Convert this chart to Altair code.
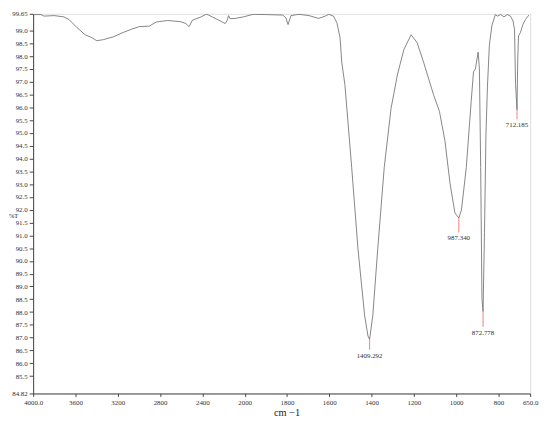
import altair as alt
import pandas as pd

# Spectrum (wavenumber cm-1, %T)
wavenumber = [4000, 3927, 3896, 3802, 3709, 3662, 3585, 3508, 3445, 3399, 3336, 3243,
              3150, 3056, 2995, 2901, 2836, 2727, 2603, 2556, 2525, 2494, 2417, 2361,
              2307, 2245, 2184, 2168, 2152, 2137, 2090, 2012, 1960, 1898, 1820, 1805,
              1795, 1781, 1743, 1696, 1650, 1619, 1603, 1580, 1564, 1549, 1541, 1526,
              1494, 1464, 1433, 1417, 1409.292, 1394, 1371, 1340, 1308, 1278, 1247,
              1213, 1185, 1154, 1107, 1079, 1053, 1029, 1006, 987.340, 975, 952, 929,
              918, 909, 896, 890, 884, 878, 872.778, 866, 859, 852, 843, 831, 815, 805,
              789, 774, 758, 743, 731, 724, 719, 712.185, 709, 705, 696, 684, 672, 656]
transmittance = [99.62, 99.62, 99.56, 99.58, 99.53, 99.43, 99.11, 98.83, 98.72, 98.60,
                 98.64, 98.75, 98.92, 99.07, 99.15, 99.17, 99.33, 99.39, 99.34, 99.27,
                 99.15, 99.40, 99.52, 99.64, 99.53, 99.40, 99.27, 99.37, 99.58, 99.46,
                 99.47, 99.53, 99.63, 99.62, 99.60, 99.49, 99.23, 99.58, 99.63, 99.58,
                 99.47, 99.56, 99.63, 99.56, 99.30, 98.72, 97.76, 96.88, 93.65, 90.45,
                 87.88, 87.07, 86.93, 87.88, 90.45, 93.65, 95.95, 97.26, 98.26, 98.83,
                 98.53, 97.76, 96.49, 95.84, 94.69, 93.03, 91.88, 91.67, 91.99, 93.65,
                 96.22, 97.38, 97.50, 98.15, 97.50, 93.65, 88.53, 88.02, 91.11, 94.95,
                 96.80, 98.42, 99.19, 99.62, 99.56, 99.62, 99.53, 99.62, 99.56, 99.37,
                 99.04, 96.88, 95.90, 97.80, 98.79, 98.92, 99.24, 99.43, 99.60]

# Peak annotations
peak_wn = [1409.292, 987.340, 872.778, 712.185]
peak_t = [86.93, 91.67, 88.02, 95.90]
peak_t_end = [86.53, 91.11, 87.42, 95.53]
peak_labels = ["1409.292", "987.340", "872.778", "712.185"]

# Axis ticks
x_ticks = [4000, 3600, 3200, 2800, 2400, 2000, 1800, 1600, 1400, 1200, 1000, 800, 650]
y_ticks = [99.65, 99.0, 98.5, 98.0, 97.5, 97.0, 96.5, 96.0, 95.5, 95.0, 94.5, 94.0,
           93.5, 93.0, 92.5, 92.0, 91.5, 91.0, 90.5, 90.0, 89.5, 89.0, 88.5, 88.0,
           87.5, 87.0, 86.5, 86.0, 85.5, 84.82]

spec = pd.DataFrame({"wn": wavenumber, "t": transmittance})
peaks = pd.DataFrame({"wn": peak_wn, "t": peak_t, "t2": peak_t_end, "label": peak_labels})

W = 504
H = 385
FONT = "Liberation Serif"

x_scale = alt.Scale(domain=[4000, 2000, 650], range=[0, 214.5, W], nice=False, zero=False)
y_scale = alt.Scale(domain=[84.82, 99.65], nice=False, zero=False)

x_axis = alt.Axis(
    values=x_ticks,
    labelExpr="(datum.value == 4000 || datum.value == 650) ? format(datum.value, '.1f') : format(datum.value, 'd')",
    title="cm \u22121", titleFontSize=10.5, titleFontWeight="normal", titleX=257, titleY=22,
    titleAlign="center", titleBaseline="alphabetic", titleFont=FONT, titleColor="#222222",
    labelFont=FONT, labelFontSize=7, labelColor="#333333",
    tickSize=3, labelPadding=2, grid=False,
    labelOverlap=False, labelFlush=False, labelBound=False,
    domainColor="#444444", tickColor="#444444",
)
y_axis = alt.Axis(
    values=y_ticks,
    labelExpr="(datum.value == 99.65 || datum.value == 84.82) ? format(datum.value, '.2f') : format(datum.value, '.1f')",
    title="%T", titleAngle=0, titleFontSize=6.5, titleFontWeight="normal",
    titleX=-25, titleY=205, titleAlign="left", titleBaseline="middle",
    titleFont=FONT, titleColor="#222222",
    labelFont=FONT, labelFontSize=7, labelColor="#333333",
    tickSize=4, labelPadding=2, grid=False,
    labelOverlap=False, labelFlush=False, labelBound=False,
    domainColor="#444444", tickColor="#444444",
)

X = alt.X("wn:Q", scale=x_scale, axis=x_axis)

line = alt.Chart(spec).mark_line(color="#666666", strokeWidth=0.8, clip=True).encode(
    x=X,
    y=alt.Y("t:Q", scale=y_scale, axis=y_axis),
    order="wn:Q",
)

marks = alt.Chart(peaks).mark_rule(color="#f08080", strokeWidth=1).encode(
    x=X,
    y=alt.Y("t:Q", scale=y_scale, axis=y_axis),
    y2="t2:Q",
)

labels = alt.Chart(peaks).mark_text(font=FONT, fontSize=7, color="#333333",
                                    baseline="top", align="center", dy=2).encode(
    x=X,
    y=alt.Y("t2:Q", scale=y_scale, axis=y_axis),
    text="label:N",
)

chart = (line + marks + labels).properties(
    width=W, height=H,
    autosize=alt.AutoSizeParams(type="none"),
    padding={"left": 25.5, "top": 3, "right": 12, "bottom": 24},
).configure_view(stroke=None).configure_axis(
    labelOverlap=False,
).configure(background="white")

chart.save("out.html", embed_options={"renderer": "svg", "actions": False})
